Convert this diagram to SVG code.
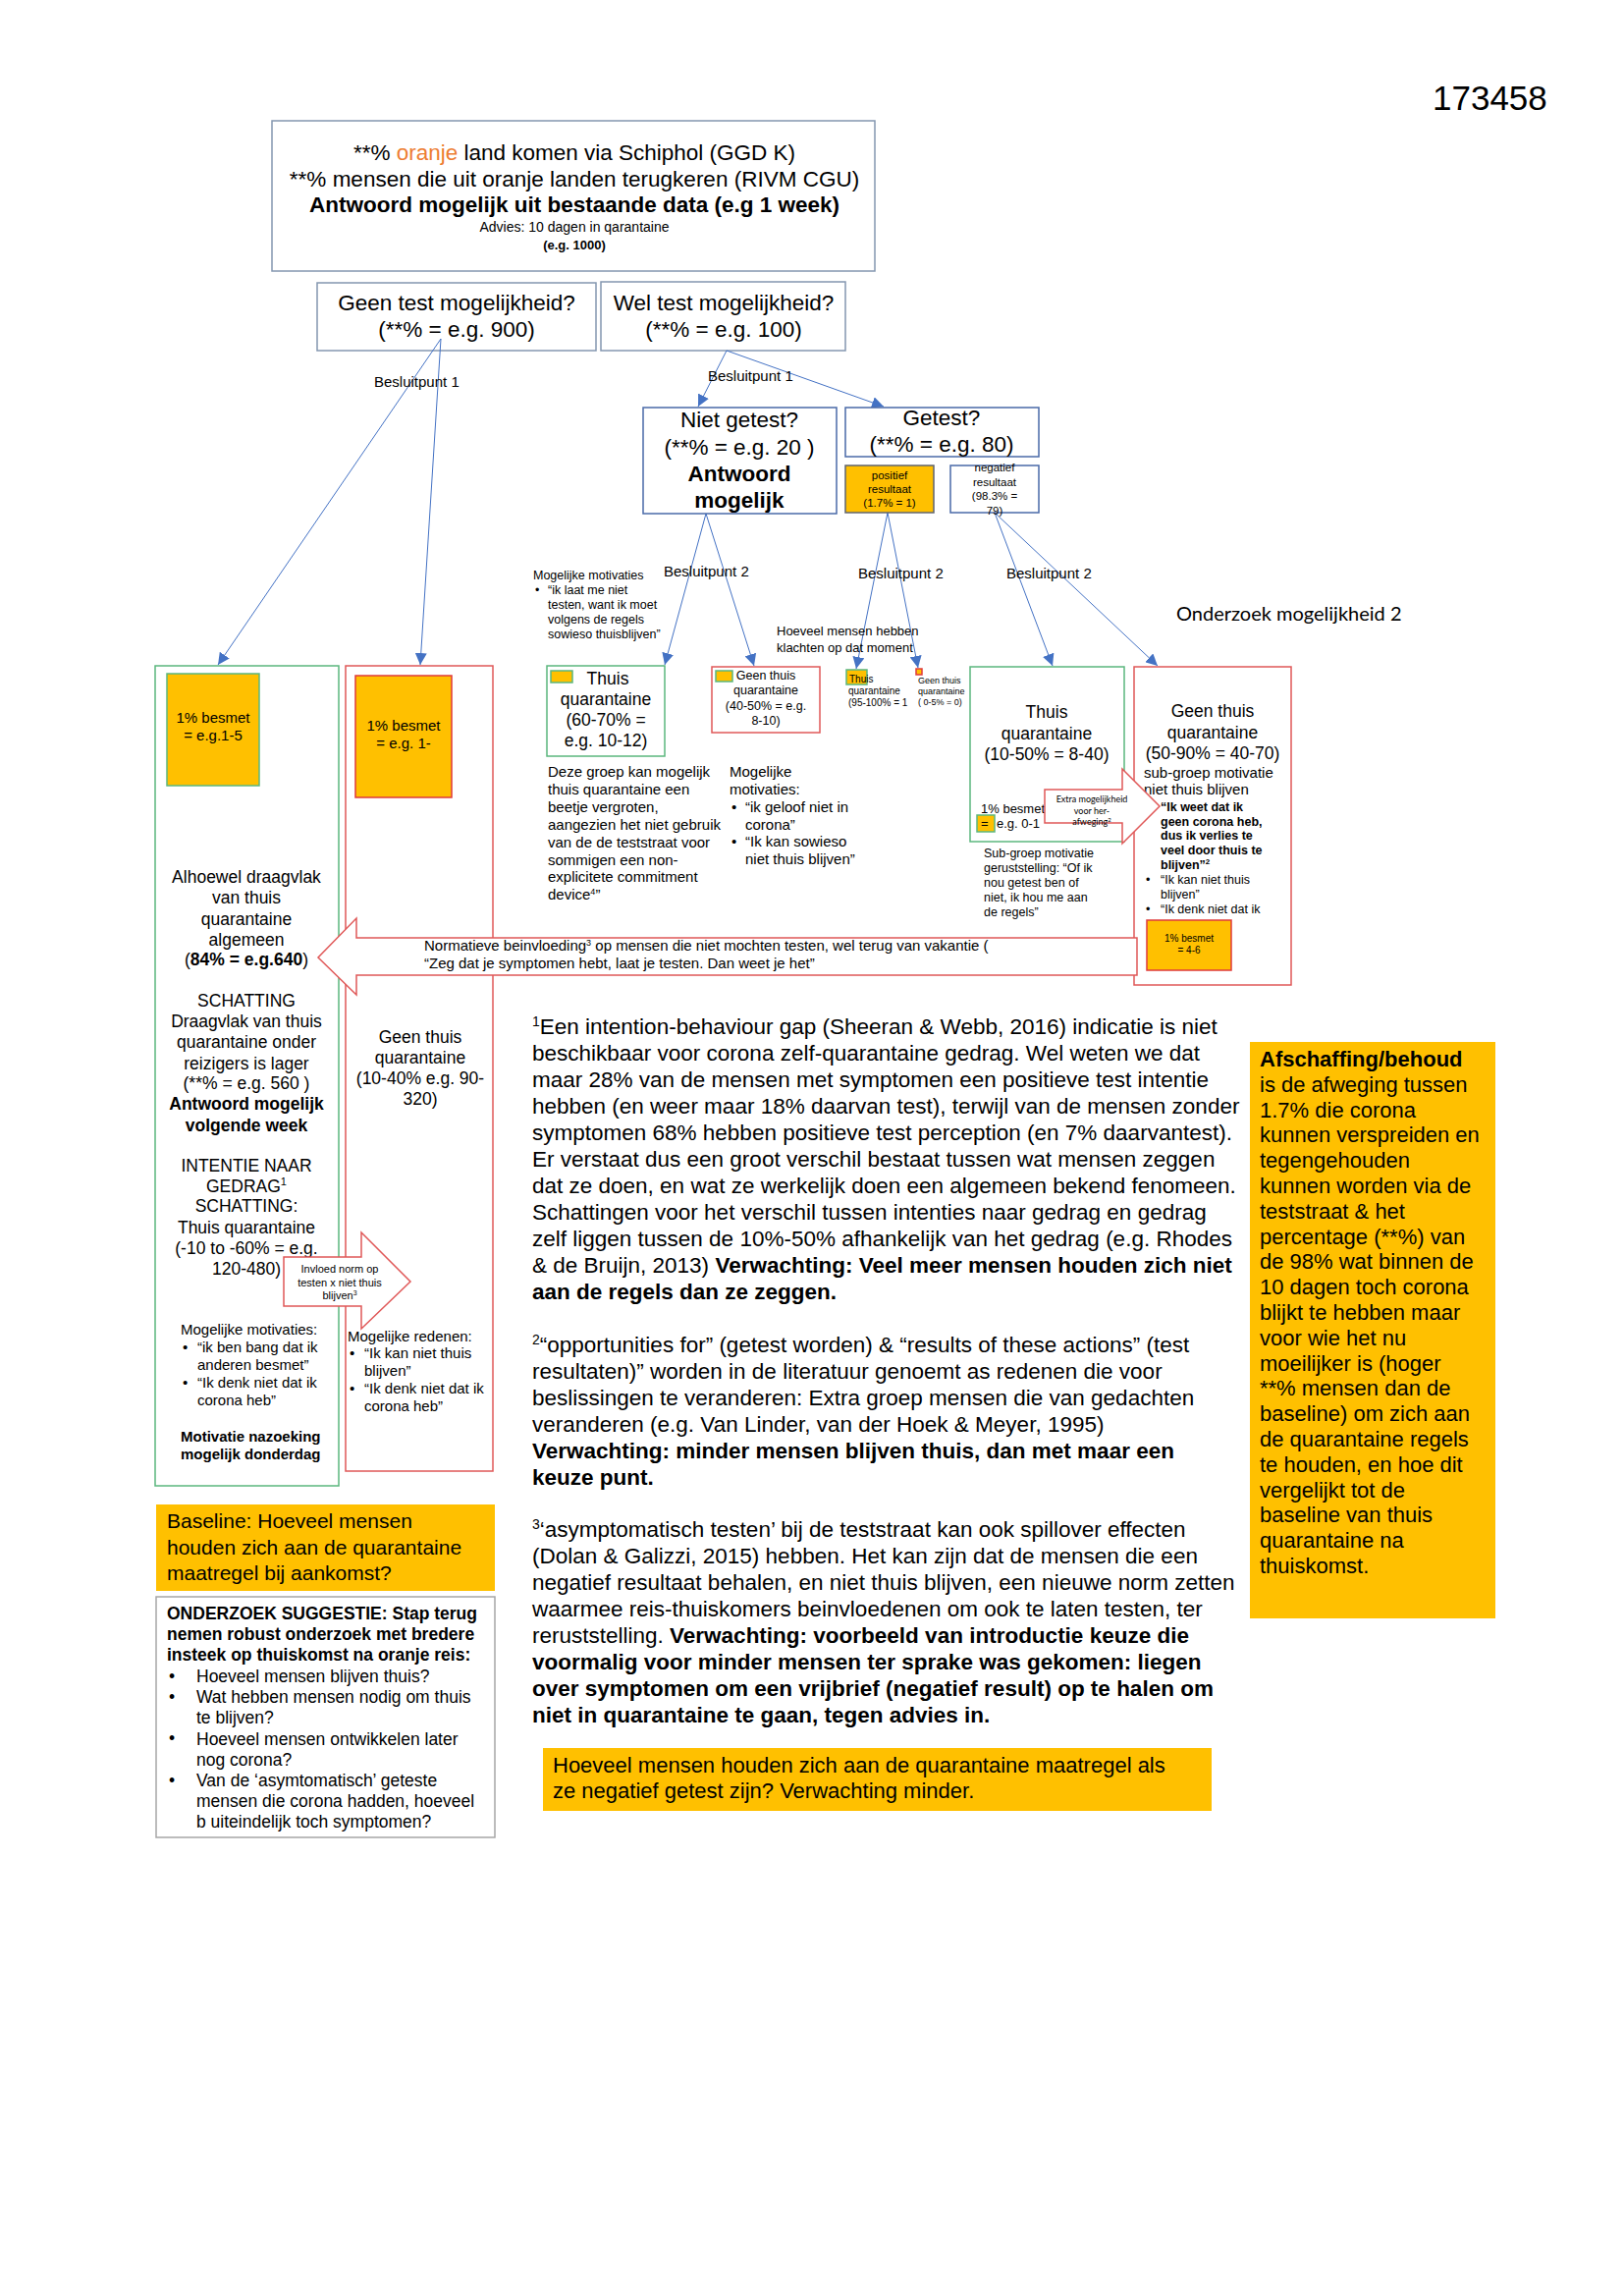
<svg xmlns="http://www.w3.org/2000/svg" width="1654" height="2338" viewBox="0 0 1654 2338">
<style>
text{font-family:"Liberation Sans",Arial,sans-serif;fill:#000}
.c{text-anchor:middle}
.b{font-weight:bold}
.cal{font-family:Lato,"Liberation Sans",sans-serif}
.bx1{fill:#fff;stroke:#8497b0;stroke-width:1.5}
.bx2{fill:#fff;stroke:#4a6aa8;stroke-width:1.5}
.gr{fill:#fff;stroke:#5bb77e;stroke-width:1.5}
.rd{fill:#fff;stroke:#e05858;stroke-width:1.5}
.og{fill:#ffc000;stroke:#5bb77e;stroke-width:1.5}
.orr{fill:#ffc000;stroke:#e03a3a;stroke-width:1.5}
.arr{fill:#fff;stroke:#e05858;stroke-width:1.5}
.con{stroke:#4472c4;stroke-width:1;fill:none;marker-end:url(#ah)}
</style>
<defs>
<marker id="ah" viewBox="0 0 10 10" refX="10" refY="5" markerWidth="12" markerHeight="12" markerUnits="userSpaceOnUse" orient="auto"><path d="M0,0 L10,5 L0,10 z" fill="#4472c4"/></marker>
</defs>
<rect width="1654" height="2338" fill="#fff"/>

<text x="1459" y="112" font-size="35">173458</text>

<g id="main">
<rect class="bx1" x="277" y="123" width="614" height="153"/>
<text class="c" x="585" y="163" font-size="22.5">**% <tspan fill="#ed7d31">oranje</tspan> land komen via Schiphol (GGD K)</text>
<text class="c" x="585" y="190" font-size="22.5">**% mensen die uit oranje landen terugkeren (RIVM CGU)</text>
<text class="c b" x="585" y="216" font-size="22.5">Antwoord mogelijk uit bestaande data (e.g 1 week)</text>
<text class="c" x="585" y="236" font-size="14">Advies: 10 dagen in qarantaine</text>
<text class="c b" x="585" y="254" font-size="13">(e.g. 1000)</text>
</g>

<g id="geen-test">
<rect class="bx1" x="323" y="288" width="284" height="69"/>
<text class="c" x="465" y="316" font-size="22.5">Geen test mogelijkheid?</text>
<text class="c" x="465" y="343" font-size="22.5">(**% = e.g. 900)</text>
</g>

<g id="wel-test">
<rect class="bx1" x="612" y="287" width="249" height="70"/>
<text class="c" x="737" y="316" font-size="22.5">Wel test mogelijkheid?</text>
<text class="c" x="737" y="343" font-size="22.5">(**% = e.g. 100)</text>
</g>

<g id="connectors">
<line class="con" x1="449" y1="345" x2="222" y2="677"/>
<line class="con" x1="449" y1="345" x2="428" y2="677"/>
<line class="con" x1="740" y1="357" x2="711" y2="414"/>
<line class="con" x1="740" y1="357" x2="900" y2="414"/>
<line class="con" x1="719" y1="523" x2="677" y2="677"/>
<line class="con" x1="719" y1="523" x2="768" y2="678"/>
<line class="con" x1="904" y1="522" x2="872" y2="681"/>
<line class="con" x1="904" y1="522" x2="935" y2="680"/>
<line class="con" x1="1013" y1="522" x2="1072" y2="678"/>
<line class="con" x1="1013" y1="522" x2="1179" y2="678"/>
</g>

<g id="labels">
<text x="381" y="394" font-size="15">Besluitpunt 1</text>
<text x="721" y="388" font-size="15">Besluitpunt 1</text>
<text x="676" y="587" font-size="15">Besluitpunt 2</text>
<text x="874" y="589" font-size="15">Besluitpunt 2</text>
<text x="1025" y="589" font-size="15">Besluitpunt 2</text>
<text class="cal" x="1198" y="632" font-size="20">Onderzoek mogelijkheid 2</text>
<text x="543" y="590" font-size="12.5">Mogelijke motivaties</text>
<text x="545" y="605" font-size="12.5">•</text>
<text x="558" y="605" font-size="12.5">“ik laat me niet<tspan x="558" dy="15">testen, want ik moet</tspan><tspan x="558" dy="15">volgens de regels</tspan><tspan x="558" dy="15">sowieso thuisblijven”</tspan></text>
<text x="791" y="647" font-size="13">Hoeveel mensen hebben<tspan x="791" dy="17">klachten op dat moment</tspan></text>
</g>

<g id="niet-getest">
<rect class="bx2" x="655" y="415" width="197" height="108"/>
<text class="c" x="753" y="435" font-size="22.5">Niet getest?</text>
<text class="c" x="753" y="463" font-size="22.5">(**% = e.g. 20 )</text>
<text class="c b" x="753" y="490" font-size="22.5">Antwoord</text>
<text class="c b" x="753" y="517" font-size="22.5">mogelijk</text>
</g>

<g id="getest">
<rect class="bx2" x="861" y="415" width="197" height="50"/>
<text class="c" x="959" y="433" font-size="22.5">Getest?</text>
<text class="c" x="959" y="460" font-size="22.5">(**% = e.g. 80)</text>
</g>

<g id="positief">
<rect x="861" y="474" width="90" height="48" fill="#ffc000" stroke="#5f6470" stroke-width="1.5"/>
<text class="c" x="906" y="488" font-size="11.5">positief<tspan x="906" dy="14">resultaat</tspan><tspan x="906" dy="14">(1.7% = 1)</tspan></text>
</g>

<g id="negatief">
<rect class="bx2" x="968" y="474" width="90" height="48"/>
<text class="c" x="1013" y="480" font-size="11.5">negatief<tspan x="1013" dy="14.5">resultaat</tspan><tspan x="1013" dy="14.5">(98.3% =</tspan><tspan x="1013" dy="14.5">79)</tspan></text>
</g>

<g id="col-green">
<rect class="gr" x="158" y="678" width="187" height="835"/>
<rect class="og" x="170" y="686" width="94" height="114"/>
<text class="c" x="217" y="736" font-size="15">1% besmet<tspan x="217" dy="18">= e.g.1-5</tspan></text>
<text class="c" x="251" y="899" font-size="17.5">Alhoewel draagvlak<tspan x="251" dy="21">van thuis</tspan><tspan x="251" dy="21.5">quarantaine</tspan><tspan x="251" dy="21">algemeen</tspan><tspan x="251" dy="20.5">(<tspan class="b">84% = e.g.640</tspan>)</tspan></text>
<text class="c" x="251" y="1025" font-size="17.5">SCHATTING<tspan x="251" dy="21">Draagvlak van thuis</tspan><tspan x="251" dy="21">quarantaine onder</tspan><tspan x="251" dy="21.5">reizigers is lager</tspan><tspan x="251" dy="20.5">(**% = e.g. 560 )</tspan><tspan x="251" dy="21" class="b">Antwoord mogelijk</tspan><tspan x="251" dy="21.5" class="b">volgende week</tspan></text>
<text class="c" x="251" y="1193" font-size="17.5">INTENTIE NAAR<tspan x="251" dy="20.5">GEDRAG<tspan font-size="11" dy="-7">1</tspan></tspan><tspan x="251" dy="27.5">SCHATTING:</tspan><tspan x="251" dy="21.5">Thuis quarantaine</tspan><tspan x="251" dy="21">(-10 to -60% = e.g.</tspan><tspan x="251" dy="21">120-480)</tspan></text>
<text x="184" y="1359" font-size="15">Mogelijke motivaties:</text>
<text x="186" y="1377" font-size="15">•</text>
<text x="186" y="1413" font-size="15">•</text>
<text x="201" y="1377" font-size="15">“ik ben bang dat ik<tspan x="201" dy="18">anderen besmet”</tspan><tspan x="201" dy="18">“Ik denk niet dat ik</tspan><tspan x="201" dy="18">corona heb”</tspan></text>
<text class="b" x="184" y="1468" font-size="15">Motivatie nazoeking<tspan x="184" dy="17.5">mogelijk donderdag</tspan></text>
</g>

<g id="col-red">
<rect class="rd" x="352" y="678" width="150" height="820"/>
<rect class="orr" x="362" y="688" width="98" height="124"/>
<text class="c" x="411" y="744" font-size="15">1% besmet<tspan x="411" dy="18">= e.g. 1-</tspan></text>
<text class="c" x="428" y="1062" font-size="17.5">Geen thuis<tspan x="428" dy="21">quarantaine</tspan><tspan x="428" dy="21">(10-40% e.g. 90-</tspan><tspan x="428" dy="21">320)</tspan></text>
<text x="354" y="1366" font-size="15">Mogelijke redenen:</text>
<text x="356" y="1383" font-size="15">•</text>
<text x="356" y="1419" font-size="15">•</text>
<text x="371" y="1383" font-size="15">“Ik kan niet thuis<tspan x="371" dy="18">blijven”</tspan><tspan x="371" dy="18">“Ik denk niet dat ik</tspan><tspan x="371" dy="18">corona heb”</tspan></text>
</g>

<g id="arrow-invloed">
<polygon class="arr" points="289,1280 368,1280 368,1255 418,1305 368,1353 368,1330 289,1330"/>
<text class="c" x="346" y="1296" font-size="11">Invloed norm op<tspan x="346" dy="13.5">testen x niet thuis</tspan><tspan x="346" dy="13.5">blijven<tspan font-size="7" dy="-4">3</tspan></tspan></text>
</g>

<g id="thuis-niet">
<rect class="gr" x="557" y="678" width="120" height="92"/>
<rect class="og" x="561" y="683" width="22" height="12"/>
<text class="c" x="619" y="697" font-size="17.5">Thuis</text>
<text class="c" x="617" y="718" font-size="17.5">quarantaine<tspan x="617" dy="21">(60-70% =</tspan><tspan x="617" dy="21">e.g. 10-12)</tspan></text>
<text x="558" y="791" font-size="15">Deze groep kan mogelijk<tspan x="558" dy="17.9">thuis quarantaine een</tspan><tspan x="558" dy="17.9">beetje vergroten,</tspan><tspan x="558" dy="17.9">aangezien het niet gebruik</tspan><tspan x="558" dy="17.9">van de de teststraat voor</tspan><tspan x="558" dy="17.9">sommigen een non-</tspan><tspan x="558" dy="17.9">explicitete commitment</tspan><tspan x="558" dy="17.9">device<tspan font-size="9" dy="-5">4</tspan><tspan dy="5">”</tspan></tspan></text>
</g>

<g id="geen-niet">
<rect class="rd" x="725" y="679" width="110" height="67"/>
<rect class="og" x="729" y="683" width="17" height="11"/>
<text class="c" x="780" y="692" font-size="12.5">Geen thuis<tspan x="780" dy="15.3">quarantaine</tspan><tspan x="780" dy="15.3">(40-50% = e.g.</tspan><tspan x="780" dy="15.3">8-10)</tspan></text>
<text x="743" y="791" font-size="15">Mogelijke<tspan x="743" dy="17.5">motivaties:</tspan></text>
<text x="745" y="827" font-size="15">•</text>
<text x="745" y="862" font-size="15">•</text>
<text x="759" y="827" font-size="15">“ik geloof niet in<tspan x="759" dy="17.5">corona”</tspan><tspan x="759" dy="17.5">“Ik kan sowieso</tspan><tspan x="759" dy="17.5">niet thuis blijven”</tspan></text>
</g>

<g id="thuis-pos">
<rect class="og" x="862" y="682" width="21" height="15"/>
<text x="865" y="695" font-size="10">Thuis</text>
<text x="864" y="707" font-size="10">quarantaine<tspan x="864" dy="12">(95-100% = 1</tspan></text>
</g>

<g id="geen-pos">
<rect class="orr" x="933" y="681" width="6" height="6"/>
<text x="935" y="696" font-size="9">Geen thuis<tspan x="935" dy="11">quarantaine</tspan><tspan x="935" dy="11">( 0-5% = 0)</tspan></text>
</g>

<g id="thuis-neg">
<rect class="gr" x="988" y="679" width="157" height="178"/>
<text class="c" x="1066" y="731" font-size="17.5">Thuis<tspan x="1066" dy="22">quarantaine</tspan><tspan x="1066" dy="21">(10-50% = 8-40)</tspan></text>
<text x="999" y="828" font-size="13">1% besmet</text>
<rect class="og" x="995" y="830" width="18" height="17"/>
<text x="999" y="843" font-size="13">=</text>
<text x="1015" y="843" font-size="13">e.g. 0-1</text>
<text x="1002" y="873" font-size="12.5">Sub-groep motivatie<tspan x="1002" dy="15">geruststelling: “Of ik</tspan><tspan x="1002" dy="15">nou getest ben of</tspan><tspan x="1002" dy="15">niet, ik hou me aan</tspan><tspan x="1002" dy="15">de regels”</tspan></text>
</g>

<g id="geen-neg">
<rect class="rd" x="1155" y="679" width="160" height="324"/>
<text class="c" x="1235" y="730" font-size="17.5">Geen thuis<tspan x="1235" dy="22">quarantaine</tspan><tspan x="1235" dy="21">(50-90% = 40-70)</tspan></text>
<text x="1165" y="792" font-size="15">sub-groep motivatie<tspan x="1165" dy="17">niet thuis blijven</tspan></text>
<text class="b" x="1182" y="826" font-size="12.5">“Ik weet dat ik<tspan x="1182" dy="14.7">geen corona heb,</tspan><tspan x="1182" dy="14.7">dus ik verlies te</tspan><tspan x="1182" dy="14.7">veel door thuis te</tspan><tspan x="1182" dy="14.7">blijven”<tspan font-size="8" dy="-5">2</tspan></tspan></text>
<text x="1167" y="900" font-size="12.5">•</text>
<text x="1167" y="930" font-size="12.5">•</text>
<text x="1182" y="900" font-size="12.5">“Ik kan niet thuis<tspan x="1182" dy="15">blijven”</tspan><tspan x="1182" dy="15">“Ik denk niet dat ik</tspan></text>
<rect class="orr" x="1168" y="937" width="86" height="51"/>
<text class="c" x="1211" y="959" font-size="10">1% besmet<tspan x="1211" dy="12">= 4-6</tspan></text>
</g>

<g id="arrow-extra">
<polygon class="arr" points="1064,804 1143,804 1143,783 1181,821 1143,859 1143,838 1064,838"/>
<text class="c cal" x="1112" y="817" font-size="9">Extra mogelijkheid<tspan x="1112" dy="11.5">voor her-</tspan><tspan x="1112" dy="11.5">afweging<tspan font-size="6" dy="-3">2</tspan></tspan></text>
</g>

<g id="arrow-norm">
<polygon class="arr" points="1158,955 363,955 363,935 324,975 363,1013 363,993 1158,993"/>
<text x="432" y="968" font-size="15">Normatieve beinvloeding<tspan font-size="9" dy="-5">3</tspan><tspan dy="5"> op mensen die niet mochten testen, wel terug van vakantie (</tspan></text>
<text x="432" y="986" font-size="15">“Zeg dat je symptomen hebt, laat je testen. Dan weet je het”</text>
</g>

<g id="baseline">
<rect x="159" y="1532" width="345" height="88" fill="#ffc000"/>
<text x="170" y="1556" font-size="21">Baseline: Hoeveel mensen<tspan x="170" dy="26.5">houden zich aan de quarantaine</tspan><tspan x="170" dy="26.5">maatregel bij aankomst?</tspan></text>
</g>

<g id="onderzoek">
<rect x="159" y="1626" width="345" height="245" fill="#fff" stroke="#a6a6a6" stroke-width="1.5"/>
<text class="b" x="170" y="1649" font-size="17.5">ONDERZOEK SUGGESTIE: Stap terug<tspan x="170" dy="21.2">nemen robust onderzoek met bredere</tspan><tspan x="170" dy="21.2">insteek op thuiskomst na oranje reis:</tspan></text>
<text x="172" y="1713" font-size="17.5">•</text>
<text x="172" y="1734" font-size="17.5">•</text>
<text x="172" y="1776" font-size="17.5">•</text>
<text x="172" y="1819" font-size="17.5">•</text>
<text x="200" y="1713" font-size="17.5">Hoeveel mensen blijven thuis?<tspan x="200" dy="21.2">Wat hebben mensen nodig om thuis</tspan><tspan x="200" dy="21.2">te blijven?</tspan><tspan x="200" dy="21.2">Hoeveel mensen ontwikkelen later</tspan><tspan x="200" dy="21.2">nog corona?</tspan><tspan x="200" dy="21.2">Van de ‘asymtomatisch’ geteste</tspan><tspan x="200" dy="21.2">mensen die corona hadden, hoeveel</tspan><tspan x="200" dy="21.2">b uiteindelijk toch symptomen?</tspan></text>
</g>

<g id="footnotes">
<text x="542" y="1053" font-size="22.5"><tspan font-size="14" dy="-8">1</tspan><tspan dy="8">Een intention-behaviour gap (Sheeran &amp; Webb, 2016)  indicatie is niet</tspan><tspan x="542" dy="27">beschikbaar voor corona zelf-quarantaine gedrag. Wel weten we dat</tspan><tspan x="542" dy="27">maar 28% van de mensen met symptomen een positieve test intentie</tspan><tspan x="542" dy="27">hebben (en weer maar 18% daarvan test), terwijl van de mensen zonder</tspan><tspan x="542" dy="27">symptomen 68% hebben positieve test perception (en 7% daarvantest).</tspan><tspan x="542" dy="27">Er verstaat dus een groot verschil bestaat tussen wat mensen zeggen</tspan><tspan x="542" dy="27">dat ze doen, en wat ze werkelijk doen een algemeen bekend fenomeen.</tspan><tspan x="542" dy="27">Schattingen voor het verschil tussen intenties naar gedrag en gedrag</tspan><tspan x="542" dy="27">zelf liggen tussen de 10%-50% afhankelijk van het gedrag (e.g. Rhodes</tspan><tspan x="542" dy="27">&amp; de Bruijn, 2013) <tspan class="b">Verwachting: Veel meer mensen houden zich niet</tspan></tspan><tspan x="542" dy="27" class="b">aan de regels dan ze zeggen.</tspan></text>
<text x="542" y="1377" font-size="22.5"><tspan font-size="14" dy="-8">2</tspan><tspan dy="8">“opportunities for” (getest worden) &amp; “results of these actions” (test</tspan><tspan x="542" dy="27">resultaten)”  worden in de literatuur genoemt as redenen die voor</tspan><tspan x="542" dy="27">beslissingen te veranderen: Extra groep mensen die van gedachten</tspan><tspan x="542" dy="27">veranderen (e.g. Van Linder, van der Hoek &amp; Meyer, 1995)</tspan><tspan x="542" dy="27" class="b">Verwachting: minder mensen blijven thuis, dan met maar een</tspan><tspan x="542" dy="27" class="b">keuze punt.</tspan></text>
<text x="542" y="1565" font-size="22.5"><tspan font-size="14" dy="-8">3</tspan><tspan dy="8">‘asymptomatisch testen’ bij de teststraat kan ook spillover effecten</tspan><tspan x="542" dy="27">(Dolan &amp; Galizzi, 2015) hebben. Het kan zijn dat de mensen die een</tspan><tspan x="542" dy="27">negatief resultaat behalen, en niet thuis blijven, een nieuwe norm zetten</tspan><tspan x="542" dy="27">waarmee reis-thuiskomers beinvloedenen om ook te laten testen, ter</tspan><tspan x="542" dy="27">reruststelling. <tspan class="b">Verwachting: voorbeeld van introductie keuze die</tspan></tspan><tspan x="542" dy="27" class="b">voormalig voor minder mensen ter sprake was gekomen: liegen</tspan><tspan x="542" dy="27" class="b">over symptomen om een vrijbrief (negatief result) op te halen om</tspan><tspan x="542" dy="27" class="b">niet in quarantaine te gaan, tegen advies in.</tspan></text>
</g>

<g id="vraag-negatief">
<rect x="553" y="1780" width="681" height="64" fill="#ffc000"/>
<text x="563" y="1805" font-size="22">Hoeveel mensen houden zich aan de quarantaine maatregel als<tspan x="563" dy="26">ze negatief getest zijn? Verwachting minder.</tspan></text>
</g>

<g id="afschaffing">
<rect x="1273" y="1061" width="250" height="587" fill="#ffc000"/>
<text x="1283" y="1086" font-size="22"><tspan class="b">Afschaffing/behoud</tspan><tspan x="1283" dy="25.8">is de afweging tussen</tspan><tspan x="1283" dy="25.8">1.7% die corona</tspan><tspan x="1283" dy="25.8">kunnen verspreiden en</tspan><tspan x="1283" dy="25.8">tegengehouden</tspan><tspan x="1283" dy="25.8">kunnen worden via de</tspan><tspan x="1283" dy="25.8">teststraat &amp; het</tspan><tspan x="1283" dy="25.8">percentage (**%) van</tspan><tspan x="1283" dy="25.8">de 98% wat binnen de</tspan><tspan x="1283" dy="25.8">10 dagen toch corona</tspan><tspan x="1283" dy="25.8">blijkt te hebben maar</tspan><tspan x="1283" dy="25.8">voor wie het nu</tspan><tspan x="1283" dy="25.8">moeilijker is (hoger</tspan><tspan x="1283" dy="25.8">**% mensen dan de</tspan><tspan x="1283" dy="25.8">baseline) om zich aan</tspan><tspan x="1283" dy="25.8">de quarantaine regels</tspan><tspan x="1283" dy="25.8">te houden, en hoe dit</tspan><tspan x="1283" dy="25.8">vergelijkt tot de</tspan><tspan x="1283" dy="25.8">baseline van thuis</tspan><tspan x="1283" dy="25.8">quarantaine na</tspan><tspan x="1283" dy="25.8">thuiskomst.</tspan></text>
</g>
</svg>
